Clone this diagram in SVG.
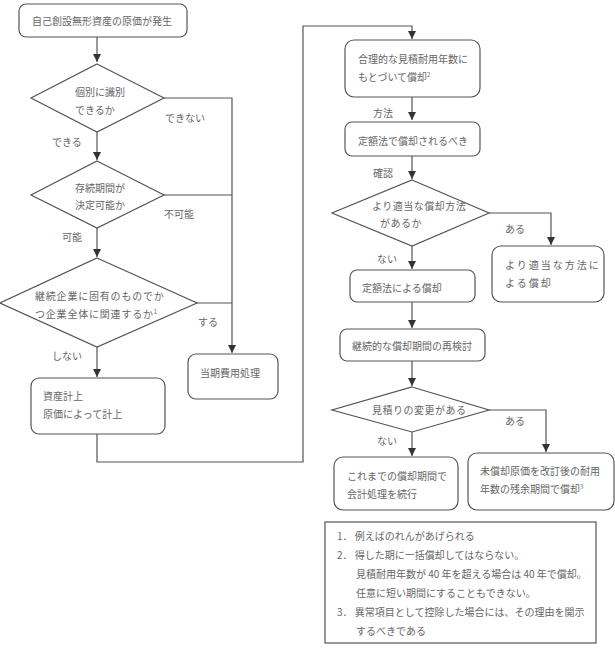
<svg xmlns="http://www.w3.org/2000/svg" width="615" height="648" viewBox="0 0 615 648">
<style>
.n{fill:#fff;stroke:#555;stroke-width:1.2}
.c{fill:none;stroke:#555;stroke-width:1.2}
text{font-family:"Noto Sans CJK JP","Noto Sans CJK SC",sans-serif;font-size:10px;fill:#666}
.w{letter-spacing:0.8px}
.s{letter-spacing:0.5px}
.x{letter-spacing:2px}
</style>
<defs>
<marker id="a" viewBox="0 0 10 10" refX="10" refY="5" markerWidth="8" markerHeight="8" markerUnits="userSpaceOnUse" orient="auto">
<path d="M0,0L10,5L0,10z" fill="#333"/>
</marker>
</defs>
<g id="connectors">
<path class="c" d="M97,37V62" marker-end="url(#a)"/>
<path class="c" d="M97,132V160" marker-end="url(#a)"/>
<path class="c" d="M97,228V257" marker-end="url(#a)"/>
<path class="c" d="M97,347V377" marker-end="url(#a)"/>
<path class="c" d="M164,98H232V353" marker-end="url(#a)"/>
<path class="c" d="M164,195H232"/>
<path class="c" d="M197,303H232"/>
<path class="c" d="M97,434V462H303V26H412V39" marker-end="url(#a)"/>
<path class="c" d="M412,97V120" marker-end="url(#a)"/>
<path class="c" d="M412,156V179" marker-end="url(#a)"/>
<path class="c" d="M489,213H551V245" marker-end="url(#a)"/>
<path class="c" d="M412,246V269" marker-end="url(#a)"/>
<path class="c" d="M412,302V328" marker-end="url(#a)"/>
<path class="c" d="M412,361V386" marker-end="url(#a)"/>
<path class="c" d="M489,410H546V452" marker-end="url(#a)"/>
<path class="c" d="M412,432V456" marker-end="url(#a)"/>
<text x="165" y="122">できない</text>
<text x="52" y="146">できる</text>
<text x="164" y="218">不可能</text>
<text x="62" y="241">可能</text>
<text x="198" y="326">する</text>
<text x="52" y="360">しない</text>
<text x="373" y="117">方法</text>
<text x="373" y="177">確認</text>
<text x="505" y="233">ある</text>
<text x="377" y="263">ない</text>
<text x="505" y="425">ある</text>
<text x="377" y="445">ない</text>
</g>
<g id="start">
<rect class="n" x="19" y="4" width="168" height="33" rx="7"/>
<text x="32" y="25">自己創設無形資産の原価が発生</text>
</g>
<g id="d1">
<polygon class="n" points="97,64 164,98 97,132 31,98"/>
<text x="75" y="96">個別に識別</text>
<text x="75" y="114">できるか</text>
</g>
<g id="d2">
<polygon class="n" points="97,161 164,195 97,228 31,195"/>
<text x="75" y="192">存続期間が</text>
<text x="75" y="209">決定可能か</text>
</g>
<g id="d3">
<polygon class="n" points="97,258 197,303 97,347 0,303"/>
<text x="35" y="300" class="w">継続企業に固有のものでか</text>
<text x="35" y="318" class="w">つ企業全体に関連するか<tspan font-size="6" dy="-4">1</tspan></text>
</g>
<g id="asset">
<rect class="n" x="31" y="378" width="134" height="56" rx="8"/>
<text x="43" y="400">資産計上</text>
<text x="43" y="418">原価によって計上</text>
</g>
<g id="expense">
<rect class="n" x="188" y="354" width="90" height="45" rx="8"/>
<text x="200" y="377">当期費用処理</text>
</g>
<g id="amort">
<rect class="n" x="345" y="40" width="135" height="57" rx="9"/>
<text x="358" y="63">合理的な見積耐用年数に</text>
<text x="358" y="81">もとづいて償却<tspan font-size="6" dy="-4">2</tspan></text>
</g>
<g id="straight">
<rect class="n" x="345" y="122" width="135" height="34" rx="7"/>
<text x="358" y="145">定額法で償却されるべき</text>
</g>
<g id="d4">
<polygon class="n" points="412,180 489,213 412,246 332,213"/>
<text x="372" y="210" class="s">より適当な償却方法</text>
<text x="380" y="227" class="s">があるか</text>
</g>
<g id="other">
<rect class="n" x="492" y="246" width="112" height="56" rx="9"/>
<text x="505" y="269" class="x">より適当な方法に</text>
<text x="505" y="287" class="x">よる償却</text>
</g>
<g id="sl">
<rect class="n" x="350" y="270" width="125" height="32" rx="7"/>
<text x="362" y="292">定額法による償却</text>
</g>
<g id="review">
<rect class="n" x="340" y="329" width="145" height="32" rx="7"/>
<text x="352" y="350">継続的な償却期間の再検討</text>
</g>
<g id="d5">
<polygon class="n" points="412,387 489,410 412,432 332,410"/>
<text x="372" y="414" class="s">見積りの変更がある</text>
</g>
<g id="cont">
<rect class="n" x="334" y="457" width="124" height="53" rx="9"/>
<text x="347" y="480">これまでの償却期間で</text>
<text x="347" y="498">会計処理を続行</text>
</g>
<g id="revise">
<rect class="n" x="468" y="453" width="146" height="57" rx="9"/>
<text x="480" y="475">未償却原価を改訂後の耐用</text>
<text x="480" y="493">年数の残余期間で償却<tspan font-size="6" dy="-4">3</tspan></text>
</g>
<g id="notes">
<rect class="n" x="325" y="522" width="271" height="121"/>
<text x="337" y="540">1．  例えばのれんがあげられる</text>
<text x="337" y="559">2．  得した期に一括償却してはならない。</text>
<text x="356" y="578">見積耐用年数が 40 年を超える場合は 40 年で償却。</text>
<text x="356" y="597">任意に短い期間にすることもできない。</text>
<text x="337" y="616">3．  異常項目として控除した場合には、その理由を開示</text>
<text x="356" y="635">するべきである</text>
</g>
</svg>
